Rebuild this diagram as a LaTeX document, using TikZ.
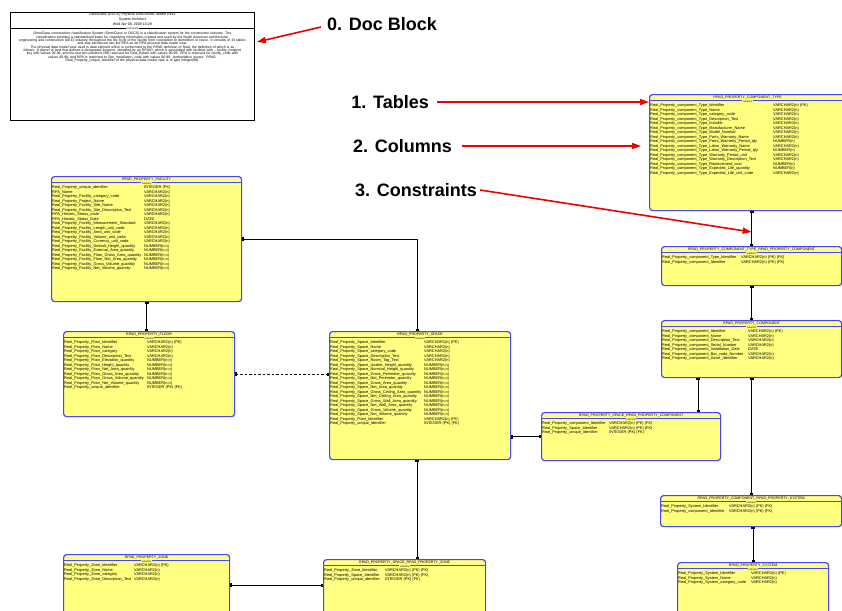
\documentclass[tikz,border=0pt]{standalone}
\usepackage{fontspec}
\setmainfont{Liberation Sans}
\usetikzlibrary{arrows.meta,calc}
\definecolor{tblfill}{RGB}{255,255,128}
\definecolor{tblline}{RGB}{70,70,255}
\definecolor{annred}{RGB}{238,0,0}

\tikzset{
  tablebox/.style={draw=tblline, fill=tblfill, line width=1.2pt, rounded corners=3pt, inner sep=0pt},
  docbox/.style={draw=black, fill=white, line width=0.8pt, inner sep=0pt},
  titletext/.style={font=\fontsize{3.6}{4}\selectfont, inner sep=0pt},
  coltag/.style={font=\fontsize{2.6}{3}\selectfont, fill=tblfill, inner sep=0.5pt},
  rowtext/.style={font=\fontsize{3.9}{4.5}\selectfont, inner sep=0pt, align=left},
  sepline/.style={draw=tblline, line width=0.8pt},
  rel/.style={draw=black, line width=0.9pt},
  parentend/.style={{Bar[width=4pt,line width=0.7pt]Bar[width=4pt,line width=0.7pt]}-{Square[length=2.4pt,width=3pt]}},
  annlabel/.style={font=\fontsize{18}{19}\selectfont\bfseries, inner sep=0pt},
  annarrow/.style={draw=annred, line width=1.6pt, -{Triangle[length=9pt,width=6pt]}},
}

\newcommand\RP{Real\_Property\_}
\newcommand\ertab[8]{%
  % #1 name, #2 x, #3 y, #4 width, #5 height, #6 type column offset, #7 title, #8 rows
  \node[tablebox, minimum width=#4pt, minimum height=#5pt, anchor=north west] (#1) at (#2,#3) {};
  \node[titletext] (#1-title) at ([yshift=-3.3pt]#1.north) {#7};
  \draw[sepline] ([yshift=-6.8pt]#1.north west) -- ([yshift=-6.8pt]#1.north east);
  \node[coltag] (#1-tag) at ([yshift=-7.6pt]#1.north) {columns};
  \node[rowtext, anchor=north west] (#1-rows) at ([xshift=1pt,yshift=-9.2pt]#1.north west)
    {\begin{tabular}{@{}p{#6pt}@{}l@{}}#8\end{tabular}};
}

\begin{document}
\begin{tikzpicture}[x=1pt, y=-1pt]
\useasboundingbox (0,0) rectangle (842,610);
\fill[white] (0,0) rectangle (842,610);

% ---------- document block ----------
\node[docbox, minimum width=244pt, minimum height=108pt, anchor=north west] (doc) at (10,12) {};
\node[titletext] (doc-t1) at ([yshift=-3pt]doc.north) {OmniClass (OCCS) Physical Data Model, Model Rev1};
\node[titletext] (doc-t2) at ([yshift=-7.8pt]doc.north) {System Architect};
\node[titletext] (doc-t3) at ([yshift=-12.3pt]doc.north) {Wed Apr 08, 2009 10:29};
\draw[black, line width=0.8pt] ([yshift=-16.5pt]doc.north west) -- ([yshift=-16.5pt]doc.north east);
\node[font=\fontsize{2.6}{3}\selectfont, fill=white, inner sep=0.5pt] (doc-tag) at ([yshift=-16.5pt]doc.north) {comments};
\node[font=\fontsize{3.45}{3.35}\selectfont, text width=240pt, align=center, inner sep=0pt, anchor=north]
  (doc-body) at ([yshift=-20.2pt]doc.north) {%
  OmniClass construction classification System (OmniClass or OCCS) is a classification system for the construction industry. The\\
  classification provides a standardized basis for classifying information created and used by the North American architectural,\\
  engineering and construction (AEC) industry, throughout the life cycle of the facility from conception to demolition or reuse. It consists of 15 tables\\
  and was introduced into the RPA as an RPA physical data model view.\\
  The physical data model view used is data element which is conformant to the RPAD definition of Real, the definition of which is as\\
  follows: A parcel of land that defines a designated footprint, identified by an RPUID, which is associated with facilities with -- facility\_footprint\\
  key with values 00-99, and the last two positions (99) reserved for Real\_Estate with values 00-99. RPA is reserved for facility\_code with\\
  values 00-99, and RPA is restricted to Site\_Installation\_code with values 00-99. Authoritative source: RPAD.\\
  Real\_Property\_unique\_identifier of the physical data model view is of type integer(99).};

% ---------- tables ----------
\ertab{fac}{51}{176}{190}{125}{92}{RPAD\_PROPERTY\_FACILITY}{%
\RP unique\_identifier & INTEGER (PK)\\
RPA\_Name & VARCHAR2(n)\\
\RP Facility\_category\_code & VARCHAR2(n)\\
\RP Project\_Name & VARCHAR2(n)\\
\RP Facility\_Site\_Name & VARCHAR2(n)\\
\RP Facility\_Site\_Description\_Text & VARCHAR2(n)\\
RPA\_Historic\_Status\_code & VARCHAR2(n)\\
RPA\_Historic\_Status\_Date & DATE\\
\RP Facility\_Measurement\_Standard & VARCHAR2(n)\\
\RP Facility\_Length\_unit\_code & VARCHAR2(n)\\
\RP Facility\_Area\_unit\_code & VARCHAR2(n)\\
\RP Facility\_Volume\_unit\_code & VARCHAR2(n)\\
\RP Facility\_Currency\_unit\_code & VARCHAR2(n)\\
\RP Facility\_Default\_Height\_quantity & NUMBER(n,n)\\
\RP Facility\_External\_Area\_quantity & NUMBER(n,n)\\
\RP Facility\_Floor\_Gross\_Area\_quantity & NUMBER(n,n)\\
\RP Facility\_Floor\_Net\_Area\_quantity & NUMBER(n,n)\\
\RP Facility\_Gross\_Volume\_quantity & NUMBER(n,n)\\
\RP Facility\_Net\_Volume\_quantity & NUMBER(n,n)}

\ertab{flr}{63}{331}{171}{85}{83}{RPAD\_PROPERTY\_FLOOR}{%
\RP Floor\_Identifier & VARCHAR2(n) (PK)\\
\RP Floor\_Name & VARCHAR2(n)\\
\RP Floor\_category & VARCHAR2(n)\\
\RP Floor\_Description\_Text & VARCHAR2(n)\\
\RP Floor\_Elevation\_quantity & NUMBER(n,n)\\
\RP Floor\_Height\_quantity & NUMBER(n,n)\\
\RP Floor\_Net\_Area\_quantity & NUMBER(n,n)\\
\RP Floor\_Gross\_Area\_quantity & NUMBER(n,n)\\
\RP Floor\_Gross\_Volume\_quantity & NUMBER(n,n)\\
\RP Floor\_Net\_Volume\_quantity & NUMBER(n,n)\\
\RP unique\_identifier & INTEGER (PK) (FK)}

\ertab{spc}{329}{331}{181}{128}{94}{RPAD\_PROPERTY\_SPACE}{%
\RP Space\_Identifier & VARCHAR2(n) (PK)\\
\RP Space\_Name & VARCHAR2(n)\\
\RP Space\_category\_code & VARCHAR2(n)\\
\RP Space\_Description\_Text & VARCHAR2(n)\\
\RP Space\_Room\_Tag\_Text & VARCHAR2(n)\\
\RP Space\_Usable\_Height\_quantity & NUMBER(n,n)\\
\RP Space\_Nominal\_Height\_quantity & NUMBER(n,n)\\
\RP Space\_Gross\_Perimeter\_quantity & NUMBER(n,n)\\
\RP Space\_Net\_Perimeter\_quantity & NUMBER(n,n)\\
\RP Space\_Gross\_Area\_quantity & NUMBER(n,n)\\
\RP Space\_Net\_Area\_quantity & NUMBER(n,n)\\
\RP Space\_Gross\_Ceiling\_Area\_quantity & NUMBER(n,n)\\
\RP Space\_Net\_Ceiling\_Area\_quantity & NUMBER(n,n)\\
\RP Space\_Gross\_Wall\_Area\_quantity & NUMBER(n,n)\\
\RP Space\_Net\_Wall\_Area\_quantity & NUMBER(n,n)\\
\RP Space\_Gross\_Volume\_quantity & NUMBER(n,n)\\
\RP Space\_Net\_Volume\_quantity & NUMBER(n,n)\\
\RP Floor\_Identifier & VARCHAR2(n) (FK)\\
\RP unique\_identifier & INTEGER (PK) (FK)}

\ertab{ctp}{649}{94}{196}{116}{123}{RPAD\_PROPERTY\_COMPONENT\_TYPE}{%
\RP component\_Type\_Identifier & VARCHAR2(n) (PK)\\
\RP component\_Type\_Name & VARCHAR2(n)\\
\RP component\_Type\_category\_code & VARCHAR2(n)\\
\RP component\_Type\_Description\_Text & VARCHAR2(n)\\
\RP component\_Type\_Installer & VARCHAR2(n)\\
\RP component\_Type\_Manufacturer\_Name & VARCHAR2(n)\\
\RP component\_Type\_Model\_Number & VARCHAR2(n)\\
\RP component\_Type\_Parts\_Warranty\_Name & VARCHAR2(n)\\
\RP component\_Type\_Parts\_Warranty\_Period\_qty & NUMBER(n)\\
\RP component\_Type\_Labor\_Warranty\_Name & VARCHAR2(n)\\
\RP component\_Type\_Labor\_Warranty\_Period\_qty & NUMBER(n)\\
\RP component\_Type\_Warranty\_Period\_unit & VARCHAR2(n)\\
\RP component\_Type\_Warranty\_Description\_Text & VARCHAR2(n)\\
\RP component\_Type\_Replacement\_cost & NUMBER(n)\\
\RP component\_Type\_Expected\_Life\_quantity & NUMBER(n)\\
\RP component\_Type\_Expected\_Life\_unit\_code & VARCHAR2(n)}

\ertab{ctc}{661}{246}{180}{39}{79}{RPAD\_PROPERTY\_COMPONENT\_TYPE\_RPAD\_PROPERTY\_COMPONENT}{%
\RP component\_Type\_Identifier & VARCHAR2(n) (PK) (FK)\\
\RP component\_Identifier & VARCHAR2(n) (PK) (FK)}

\ertab{cmp}{661}{320}{180}{57}{86}{RPAD\_PROPERTY\_COMPONENT}{%
\RP component\_Identifier & VARCHAR2(n) (PK)\\
\RP component\_Name & VARCHAR2(n)\\
\RP component\_Description\_Text & VARCHAR2(n)\\
\RP component\_Serial\_Number & VARCHAR2(n)\\
\RP component\_Installation\_Date & DATE\\
\RP component\_Bar\_code\_Number & VARCHAR2(n)\\
\RP component\_Asset\_Identifier & VARCHAR2(n)}

\ertab{spcmp}{541}{412}{179}{48}{67}{RPAD\_PROPERTY\_SPACE\_RPAD\_PROPERTY\_COMPONENT}{%
\RP component\_Identifier & VARCHAR2(n) (PK) (FK)\\
\RP Space\_Identifier & VARCHAR2(n) (PK) (FK)\\
\RP unique\_identifier & INTEGER (PK) (FK)}

\ertab{csy}{660}{495}{181}{31}{68}{RPAD\_PROPERTY\_COMPONENT\_RPAD\_PROPERTY\_SYSTEM}{%
\RP System\_Identifier & VARCHAR2(n) (PK) (FK)\\
\RP component\_Identifier & VARCHAR2(n) (PK) (FK)}

\ertab{sys}{677}{562}{151}{60}{73}{RPAD\_PROPERTY\_SYSTEM}{%
\RP System\_Identifier & VARCHAR2(n) (PK)\\
\RP System\_Name & VARCHAR2(n)\\
\RP System\_category\_code & VARCHAR2(n)}

\ertab{zon}{63}{554}{166}{70}{70}{RPAD\_PROPERTY\_ZONE}{%
\RP Zone\_Identifier & VARCHAR2(n) (PK)\\
\RP Zone\_Name & VARCHAR2(n)\\
\RP Zone\_category & VARCHAR2(n)\\
\RP Zone\_Description\_Text & VARCHAR2(n)}

\ertab{spz}{323}{559}{162}{70}{61}{RPAD\_PROPERTY\_SPACE\_RPAD\_PROPERTY\_ZONE}{%
\RP Zone\_Identifier & VARCHAR2(n) (PK) (FK)\\
\RP Space\_Identifier & VARCHAR2(n) (PK) (FK)\\
\RP unique\_identifier & INTEGER (PK) (FK)}

% ---------- relationships ----------
\draw[rel, parentend] (fac.east) -| ([xshift=-3pt]spc.north);
\draw[rel, parentend] (fac.south) -- (fac.south |- flr.north);
\draw[rel, dashed, dash pattern=on 2.5pt off 2pt, parentend] (flr.east) -- (flr.east -| spc.west);
\draw[rel, parentend] (spcmp.west -| spc.east) -- (spcmp.west);
\draw[rel, parentend] ([xshift=-3pt]spc.south) -- ([xshift=-3pt]spc.south |- spz.north);
\draw[rel, parentend] (zon.east |- 0,585) -- (spz.west |- 0,585);
\draw[rel, parentend] (ctc.north |- ctp.south) -- (ctc.north);
\draw[rel, parentend] (ctc.south) -- (cmp.north);
\draw[rel, parentend] ([xshift=37pt]cmp.south west) -- ([xshift=37pt]cmp.south west |- spcmp.north);
\draw[rel, parentend] (cmp.south) -- (cmp.south |- csy.north);
\draw[rel, parentend] (csy.south -| sys.north) -- (sys.north);

% ---------- annotations ----------
\node[annlabel, anchor=west] (lab0) at (327,24) {0. Doc Block};
\node[annlabel, anchor=east] (lab1) at (429,102) {1. Tables};
\node[annlabel, anchor=east] (lab2) at (452,146) {2. Columns};
\node[annlabel, anchor=east] (lab3) at (477,190) {3. Constraints};
\coordinate (tip0) at ([yshift=-30pt,xshift=2pt]doc.north east);
\coordinate (tip2) at ([xshift=-8pt]ctp.west |- lab2.east);
\coordinate (tip3) at (ctc.north |- 0,232);
\draw[annarrow] ([xshift=-6pt,yshift=-3pt]lab0.west) -- (tip0);
\draw[annarrow] ([xshift=8pt]lab1.east) -- (lab1.east -| ctp.west);
\draw[annarrow] ([xshift=10pt]lab2.east) -- (tip2);
\draw[annarrow] ([xshift=3pt]lab3.east) -- (tip3);
\end{tikzpicture}
\end{document}
